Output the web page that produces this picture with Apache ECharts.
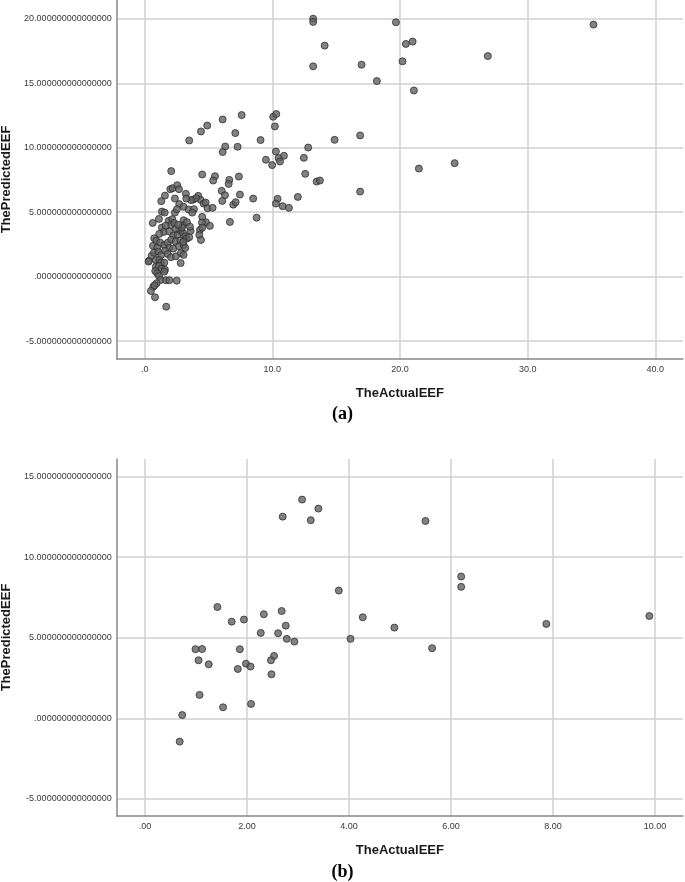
<!DOCTYPE html>
<html>
<head>
<meta charset="utf-8">
<script src="https://cdn.jsdelivr.net/npm/echarts@6/dist/echarts.min.js"></script>
<style>
html,body{margin:0;padding:0;background:#fff;}
#chart{width:685px;height:882px;}
</style>
</head>
<body>
<div id="chart"></div>
<script>
// Panel (a): [TheActualEEF, ThePredictedEEF]
var pointsA = [
[13.20,20.02],[13.20,19.77],[19.68,19.74],[35.16,19.56],[14.10,17.93],[20.46,18.06],[20.99,18.24],[26.88,17.12],
[13.20,16.32],[16.99,16.45],[20.20,16.71],[18.19,15.18],[21.09,14.45],[14.88,10.62],[16.88,10.96],[12.81,10.02],
[12.47,9.22],[12.58,7.98],[13.47,7.38],[13.73,7.46],[16.88,6.60],[21.48,8.39],[24.28,8.81],
[6.11,12.20],[7.60,12.54],[4.41,11.27],[4.90,11.73],[3.49,10.57],[7.10,11.14],[6.31,10.10],[6.11,9.67],[7.28,10.08],
[9.08,10.60],[10.07,12.41],[10.31,12.62],[10.20,11.66],[10.28,9.71],[10.91,9.38],[10.49,9.20],[10.60,8.94],[9.50,9.07],
[9.99,8.66],[2.08,8.19],[4.51,7.93],[5.51,7.80],[7.38,7.77],[6.63,7.51],[6.58,7.20],[5.37,7.46],[6.03,6.66],[6.29,6.32],
[6.08,5.88],[6.94,5.59],[7.13,5.78],[7.46,6.37],[8.50,6.06],[10.41,6.04],[10.28,5.67],[10.81,5.47],[11.30,5.34],
[12.00,6.19],[8.77,4.58],[6.68,4.25],
[2.01,6.79],[2.19,6.87],[2.55,7.10],[2.69,6.79],[1.59,6.29],[1.30,5.86],[2.37,6.06],[3.23,6.43],[3.81,5.98],[4.20,6.27],
[4.38,5.96],[4.02,6.09],[4.62,5.67],[4.78,5.75],[4.93,5.31],[5.32,5.34],[2.71,5.63],[3.05,5.42],[3.45,5.21],[3.86,5.24],
[3.63,5.94],[3.26,6.06],[1.35,5.05],[1.57,4.97],[0.63,4.17],[1.12,4.48],[2.37,4.97],[2.53,5.24],[1.88,4.33],[2.16,4.46],
[2.04,4.02],[2.32,4.17],[3.05,4.38],[3.00,3.99],[3.31,4.23],[2.82,3.57],[3.73,4.97],[4.51,4.64],[4.80,4.23],[5.11,3.94],
[4.49,4.20],[4.33,3.63],[4.51,3.81],[4.28,3.24],[4.41,2.85],[1.35,3.81],[1.64,3.96],[1.49,3.47],[1.14,3.32],[1.93,3.50],
[2.24,3.19],[2.58,3.26],[2.71,3.63],[2.45,3.73],[3.00,3.40],[3.18,3.14],[3.29,2.95],[3.49,3.06],[3.60,3.55],[3.55,3.88],
[2.92,3.81],[2.63,4.02],[0.75,2.98],[0.91,2.80],[0.65,2.39],[0.99,2.28],[1.22,2.64],[1.54,2.46],[1.82,2.64],[2.08,2.87],
[2.43,2.72],[2.79,2.80],[1.93,2.23],[2.24,2.18],[2.69,2.36],[3.05,2.44],[3.18,2.23],[3.02,2.70],[0.34,1.24],[0.55,1.63],
[0.73,1.86],[1.07,1.94],[1.30,1.69],[1.61,2.02],[1.80,1.76],[2.06,1.51],[2.45,1.58],[2.84,1.82],[3.05,1.69],[2.82,1.06],
[0.88,1.30],[1.14,1.30],[1.28,1.09],[1.54,1.09],[0.88,0.78],[1.12,0.83],[1.33,0.62],[1.59,0.54],[0.83,0.44],[0.99,0.26],
[1.12,0.05],[1.25,-0.26],[1.67,-0.28],[1.93,-0.28],[2.51,-0.31],[0.94,-0.51],[0.67,-0.78],[0.78,-0.67],[0.49,-1.11],
[0.81,-1.60],[1.69,-2.33],[0.31,1.17],[1.54,0.39]
];

// Panel (b): [TheActualEEF, ThePredictedEEF]
var pointsB = [
[3.08,13.58],[3.40,13.02],[2.70,12.52],[3.25,12.30],[3.80,7.93],[1.42,6.91],[1.70,6.00],[1.94,6.13],[2.33,6.46],
[2.68,6.66],[2.76,5.75],[2.27,5.30],[2.61,5.28],[2.78,4.93],[2.93,4.76],[4.03,4.93],[0.99,4.29],[1.12,4.30],
[1.86,4.29],[1.05,3.60],[1.25,3.35],[1.98,3.39],[2.07,3.21],[1.82,3.06],[2.53,3.87],[2.47,3.60],[2.48,2.73],
[1.07,1.45],[1.53,0.68],[2.08,0.89],[0.73,0.20],[0.68,-1.45],[5.50,12.25],[6.20,8.80],[6.20,8.16],[4.27,6.27],
[4.89,5.63],[5.63,4.35],[7.87,5.86],[9.89,6.35]
];

var xTitle = 'TheActualEEF';
var yTitle = 'ThePredictedEEF';
var panelLabels = ['(a)', '(b)'];

var labelFont = 'Liberation Sans, Arial, sans-serif';
var gridColor = '#d0d0d0';
var axisColor = '#888888';

function yFmt(v){ return v === 0 ? '.000000000000000' : v.toFixed(15); }
function xFmtA(v){ return v === 0 ? '.0' : v.toFixed(1); }
function xFmtB(v){ return v === 0 ? '.00' : v.toFixed(2); }

function xAxisCfg(idx, min, max, fmt){
  return {
    type:'value', gridIndex: idx, min:min, max:max, scale:true,
    name: xTitle, nameLocation:'middle', nameGap: 28,
    nameTextStyle:{fontFamily:labelFont, fontWeight:'bold', fontSize:13, color:'#1a1a1a'},
    axisLine:{show:true, onZero:false, lineStyle:{color:axisColor, width:1.5}},
    axisTick:{show:false},
    axisLabel:{show:true, formatter:fmt, fontFamily:labelFont, fontSize:9, color:'#3a3a3a', margin:6,
               showMinLabel:false, showMaxLabel:false},
    splitLine:{show:true, showMinLine:false, showMaxLine:false, lineStyle:{color:gridColor, width:1.5}}
  };
}
function yAxisCfg(idx, min, max){
  return {
    type:'value', gridIndex: idx, min:min, max:max, scale:true,
    name: yTitle, nameLocation:'middle', nameGap: 101,
    nameTextStyle:{fontFamily:labelFont, fontWeight:'bold', fontSize:13, color:'#1a1a1a'},
    axisLine:{show:true, onZero:false, lineStyle:{color:axisColor, width:1.5}},
    axisTick:{show:false},
    axisLabel:{show:true, formatter:yFmt, fontFamily:labelFont, fontSize:9, color:'#3a3a3a', margin:5,
               showMinLabel:false, showMaxLabel:false},
    splitLine:{show:true, showMinLine:false, showMaxLine:false, lineStyle:{color:gridColor, width:1.5}}
  };
}

var markerStyle = {color:'#636363', borderColor:'#2e2e2e', borderWidth:1};

var chart = echarts.init(document.getElementById('chart'), null, {renderer:'canvas'});
chart.setOption({
  backgroundColor:'#ffffff',
  animation:false,
  grid:[
    {left:116.7, top:0, width:566.3, height:359, containLabel:false, outerBoundsMode:'none'},
    {left:116.7, top:459, width:566.3, height:357, containLabel:false, outerBoundsMode:'none'}
  ],
  xAxis:[ xAxisCfg(0, -2.19, 42.17, xFmtA), xAxisCfg(1, -0.555, 10.55, xFmtB) ],
  yAxis:[ yAxisCfg(0, -6.39, 21.47), yAxisCfg(1, -6.07, 16.10) ],
  graphic:[
    {type:'text', left:'center', top:405, style:{text:panelLabels[0], font:'bold 18px "Liberation Serif", "Times New Roman", serif', fill:'#000'}},
    {type:'text', left:'center', top:863, style:{text:panelLabels[1], font:'bold 18px "Liberation Serif", "Times New Roman", serif', fill:'#000'}}
  ],
  series:[
    {type:'scatter', xAxisIndex:0, yAxisIndex:0, data:pointsA, symbol:'circle', symbolSize:7, itemStyle:markerStyle},
    {type:'scatter', xAxisIndex:1, yAxisIndex:1, data:pointsB, symbol:'circle', symbolSize:7, itemStyle:markerStyle}
  ]
});
</script>
</body>
</html>
